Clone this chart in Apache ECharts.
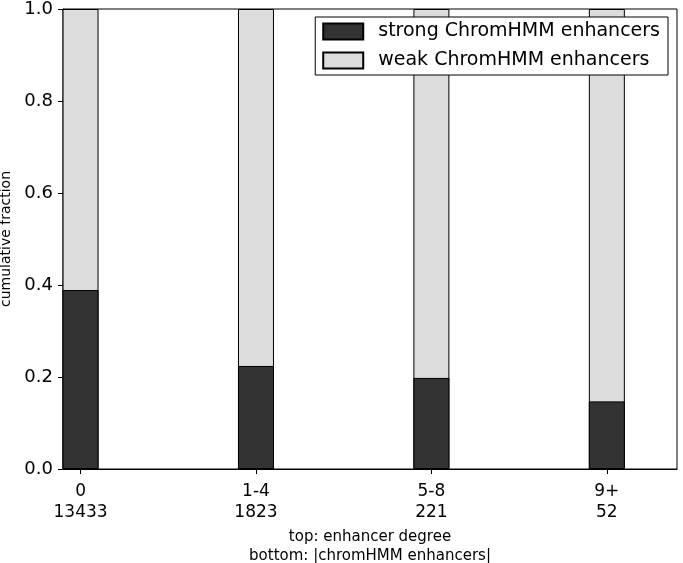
<!DOCTYPE html>
<html>
<head>
<meta charset="utf-8">
<script src="https://cdn.jsdelivr.net/npm/echarts@6/dist/echarts.min.js"></script>
<style>
html, body { margin: 0; padding: 0; background: #fff; }
#chart { width: 683px; height: 563px; }
</style>
</head>
<body>
<div id="chart"></div>
<script>
// bar positions on the x axis (matplotlib-style: left edges 0..3, width 0.2)
var xPos = [0.1, 1.1, 2.1, 3.1];
var degreeLabels = ['0', '1-4', '5-8', '9+'];
var countLabels = ['13433', '1823', '221', '52'];
// cumulative fraction: strong at the bottom, strong + weak on top
var strongFrac = [0.389, 0.224, 0.198, 0.147];
var strongPlusWeak = [1.0, 1.0, 1.0, 1.0];

var font = 'DejaVu Sans';

var chart = echarts.init(document.getElementById('chart'));

function pairs(vals) {
    return vals.map(function (v, i) { return [xPos[i], v]; });
}

chart.setOption({
    animation: false,
    textStyle: { fontFamily: font },
    grid: {
        left: 63, right: 6, top: 9, bottom: 94,
        containLabel: false,
        outerBoundsMode: 'none',
        show: true, borderColor: '#000', borderWidth: 1
    },
    legend: {
        orient: 'vertical',
        right: 15, top: 17,
        padding: [5, 8, 5, 7],
        icon: 'rect',
        itemWidth: 40, itemHeight: 16, itemGap: 10,
        borderColor: '#000', borderWidth: 1,
        backgroundColor: '#fff',
        textStyle: { fontSize: 19, color: '#000', fontFamily: font, padding: [0, 0, 0, 10] },
        data: ['strong ChromHMM enhancers', 'weak ChromHMM enhancers']
    },
    xAxis: [{
        type: 'value',
        min: 0, max: 3.5,
        name: 'top: enhancer degree\nbottom: |chromHMM enhancers|',
        nameLocation: 'middle',
        nameGap: 55,
        nameTextStyle: { fontSize: 15, color: '#000', lineHeight: 19, fontFamily: font },
        axisLine: { show: true, lineStyle: { color: '#000' } },
        splitLine: { show: false },
        axisTick: { show: true, inside: true, length: 5, customValues: xPos, lineStyle: { color: '#000' } },
        axisLabel: {
            customValues: xPos,
            margin: 12,
            fontSize: 17,
            lineHeight: 21,
            color: '#000',
            fontFamily: font,
            formatter: function (v) {
                var i = xPos.indexOf(v);
                return i < 0 ? '' : degreeLabels[i] + '\n' + countLabels[i];
            }
        }
    }, {
        type: 'value',
        position: 'top',
        min: 0, max: 3.5,
        axisLine: { show: false },
        splitLine: { show: false },
        axisLabel: { show: false },
        axisTick: { show: true, inside: true, length: 5, customValues: xPos, lineStyle: { color: '#000' } }
    }],
    yAxis: [{
        type: 'value',
        min: 0, max: 1, interval: 0.2,
        name: 'cumulative fraction',
        nameLocation: 'middle',
        nameGap: 43,
        nameTextStyle: { fontSize: 14, color: '#000', fontFamily: font },
        axisLine: { show: true, lineStyle: { color: '#000' } },
        splitLine: { show: false },
        axisTick: { show: true, inside: true, length: 5, lineStyle: { color: '#000' } },
        axisLabel: {
            fontSize: 18, color: '#000', margin: 10, fontFamily: font,
            formatter: function (v) { return v.toFixed(1); }
        }
    }, {
        type: 'value',
        position: 'right',
        min: 0, max: 1, interval: 0.2,
        axisLine: { show: false },
        splitLine: { show: false },
        axisLabel: { show: false },
        axisTick: { show: true, inside: true, length: 5, lineStyle: { color: '#000' } }
    }],
    series: [{
        name: 'weak ChromHMM enhancers',
        type: 'bar',
        barWidth: 36,
        barGap: '-100%',
        z: 1,
        itemStyle: { color: '#dcdcdc', borderColor: '#000', borderWidth: 1 },
        data: pairs(strongPlusWeak)
    }, {
        name: 'strong ChromHMM enhancers',
        type: 'bar',
        barWidth: 36,
        barGap: '-100%',
        z: 2,
        itemStyle: { color: '#333333', borderColor: '#000', borderWidth: 1 },
        data: pairs(strongFrac)
    }]
});
</script>
</body>
</html>
